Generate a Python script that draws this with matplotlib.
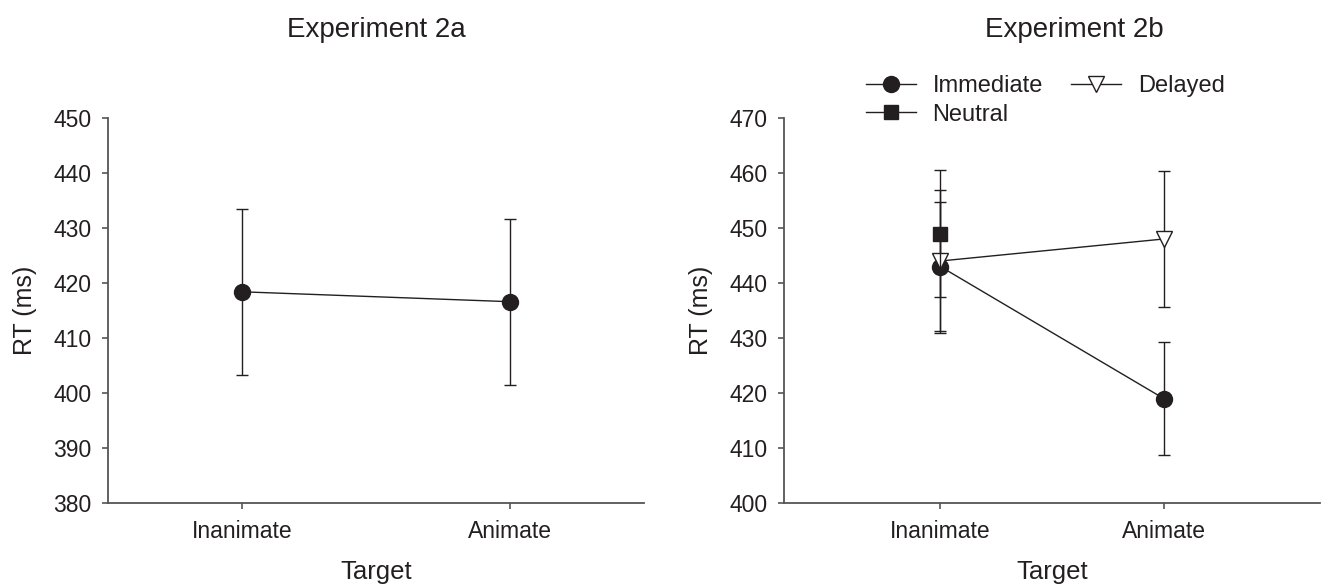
import matplotlib
matplotlib.use("Agg")
import matplotlib.pyplot as plt
import numpy as np

plt.rcParams['font.family'] = ['Liberation Sans', 'DejaVu Sans']

#Data
targets = ['Inanimate', 'Animate']

#Experiment 2a
rt_2a = [418.4, 416.6]
err_2a = [15.1, 15.1]

#Experiment 2b
rt_immediate = [443.0, 419.0]
err_immediate = [11.8, 10.3]
rt_delayed = [444.0, 448.0]
err_delayed = [13.0, 12.4]
rt_neutral = [449.0]
err_neutral = [11.5]

ink = '#231f20'
spine_col = '#555555'

fig = plt.figure(figsize=(13.22, 5.88), dpi=100)
ax1 = fig.add_axes([108/1322, 85/588, 536/1322, 385/588])
ax2 = fig.add_axes([784/1322, 85/588, 536/1322, 385/588])

x = np.arange(len(targets))

def style_axes(ax, ylim, xlim):
    #Only left and bottom spines, ticks pointing out
    for side in ['top', 'right']:
        ax.spines[side].set_visible(False)
    for side in ['left', 'bottom']:
        ax.spines[side].set_color(spine_col)
        ax.spines[side].set_linewidth(1.3)
    ax.set_xlim(*xlim)
    ax.set_ylim(*ylim)
    ax.set_yticks(np.arange(ylim[0], ylim[1] + 1, 10))
    ax.set_xticks(x)
    ax.set_xticklabels(targets)
    ax.tick_params(direction='out', length=4, width=1.2, color=spine_col,
                   labelsize=16.5, labelcolor=ink, pad=8)
    ax.set_xlabel('Target', fontsize=18.5, color=ink)
    ax.set_ylabel('RT (ms)', fontsize=18, color=ink)
    ax.xaxis.set_label_coords(0.5, -0.148)
    ax.yaxis.set_label_coords(-0.133, 0.5)

#Experiment 2a panel
ax1.errorbar(x, rt_2a, yerr=err_2a, color=ink, marker='o', markersize=11.5,
             linewidth=1, elinewidth=1, capsize=4.5, capthick=1)
style_axes(ax1, (380, 450), (-0.5, 1.5))

#Experiment 2b panel
ax2.errorbar(x, rt_immediate, yerr=err_immediate, color=ink, marker='o',
             markersize=11.5, linewidth=1, elinewidth=1, capsize=4.5, capthick=1,
             label='Immediate', zorder=3)
ax2.errorbar(x[:1], rt_neutral, yerr=err_neutral, color=ink, marker='s',
             markersize=9.5, linewidth=1, elinewidth=1, capsize=4.5, capthick=1,
             label='Neutral', zorder=5)
ax2.errorbar(x, rt_delayed, yerr=err_delayed, color=ink, marker='v',
             markersize=11.5, markerfacecolor='white', markeredgecolor=ink,
             linewidth=1, elinewidth=1, capsize=4.5, capthick=1,
             label='Delayed', zorder=4)
style_axes(ax2, (400, 470), (-0.7, 1.7))

handles, labels = ax2.get_legend_handles_labels()
order = [labels.index(n) for n in ['Immediate', 'Neutral', 'Delayed']]
leg = fig.legend([handles[i][0] for i in order], [labels[i] for i in order],
                 ncol=2, loc='upper left', bbox_to_anchor=(866/1322, 1 - 75/588),
                 frameon=False, fontsize=17, handlelength=2.1, handletextpad=0.72,
                 columnspacing=1.2, labelspacing=0.28, borderpad=0,
                 borderaxespad=0)
for t in leg.get_texts():
    t.set_color(ink)

#Panel titles
fig.text(376/1322, 1 - 30/588, 'Experiment 2a', ha='center', va='center',
         fontsize=20, color=ink)
fig.text(1074/1322, 1 - 30/588, 'Experiment 2b', ha='center', va='center',
         fontsize=20, color=ink)

fig.savefig('out.png', dpi=100)
